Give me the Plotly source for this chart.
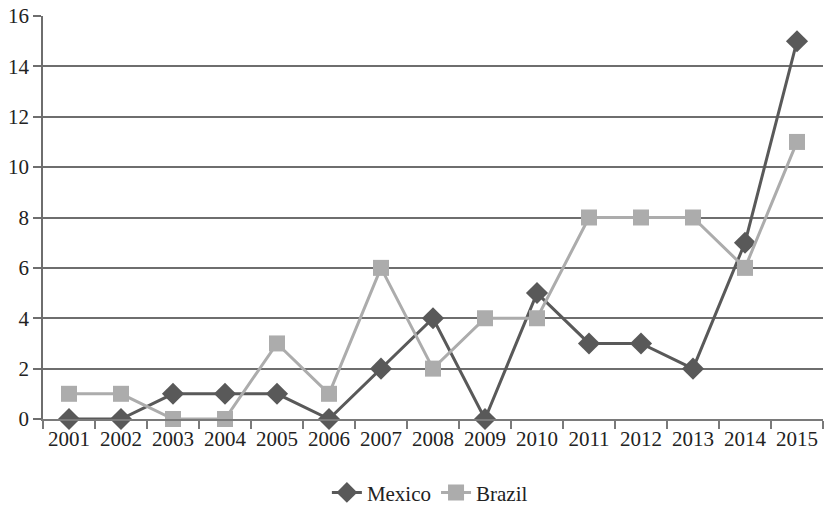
import plotly.graph_objects as go

years = [str(y) for y in range(2001, 2016)]
mexico = [0, 0, 1, 1, 1, 0, 2, 4, 0, 5, 3, 3, 2, 7, 15]
brazil = [1, 1, 0, 0, 3, 1, 6, 2, 4, 4, 8, 8, 8, 6, 11]
y_ticks = [0, 2, 4, 6, 8, 10, 12, 14, 16]

fig = go.Figure()
fig.add_trace(go.Scatter(
    x=years, y=mexico, name="Mexico", mode="lines+markers",
    line=dict(color="#595959", width=3),
    marker=dict(symbol="diamond", size=17, color="#595959"),
    cliponaxis=False,
))
fig.add_trace(go.Scatter(
    x=years, y=brazil, name="Brazil", mode="lines+markers",
    line=dict(color="#acacac", width=3),
    marker=dict(symbol="square", size=16, color="#acacac"),
    cliponaxis=False,
))

fig.update_layout(
    width=826, height=507,
    margin=dict(l=43, r=3, t=16, b=88),
    paper_bgcolor="white", plot_bgcolor="white",
    font=dict(family="Liberation Serif", size=21, color="#222222"),
    showlegend=True,
    legend=dict(orientation="h", x=0.496, xanchor="center", yref="container",
                y=0.028, yanchor="middle",
                font=dict(size=21), itemwidth=30, tracegroupgap=0),
    xaxis=dict(type="category", tickson="boundaries", ticks="outside", ticklen=8,
               tickcolor="#7a7a7a", tickwidth=1.5, showline=True, linecolor="#7a7a7a",
               linewidth=1.5, showgrid=False, range=[-0.5, 14.5], automargin=False),
    yaxis=dict(range=[0, 16], tickvals=y_ticks, ticks="outside", ticklen=8,
               tickcolor="#6e6e6e", tickwidth=1.5, showline=True, linecolor="#6e6e6e",
               linewidth=1.5, showgrid=True, gridcolor="#6e6e6e", gridwidth=1.5,
               zeroline=False, automargin=False),
)
fig.write_html("out.html", config={"displayModeBar": False},
               post_script="document.body.style.margin='0px';document.body.style.overflow='hidden';")
